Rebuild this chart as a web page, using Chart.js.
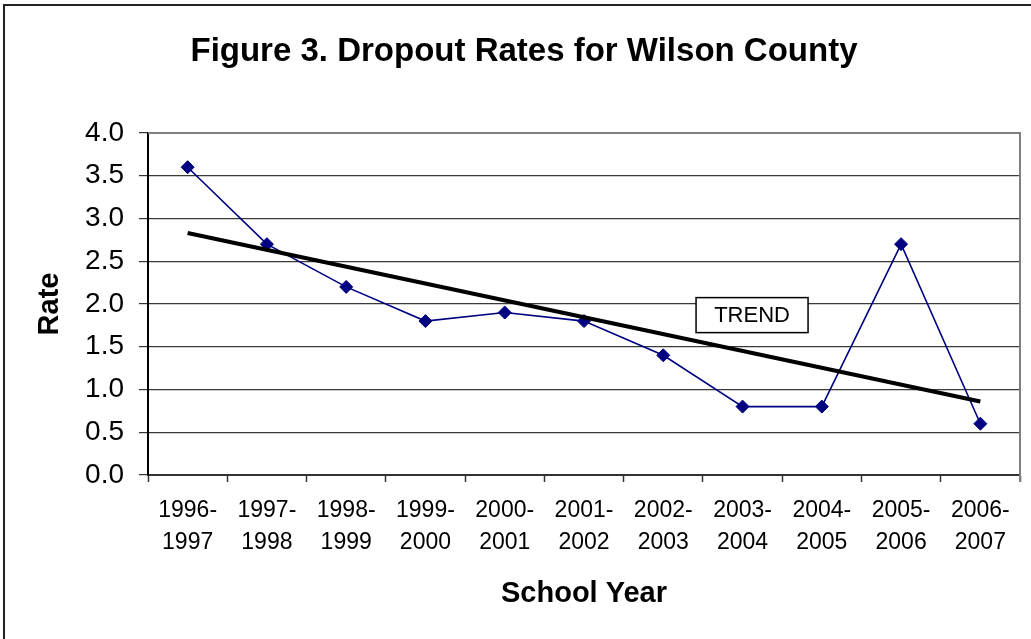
<!DOCTYPE html>
<html>
<head>
<meta charset="utf-8">
<script src="https://cdn.jsdelivr.net/npm/chart.js@4.4.1/dist/chart.umd.min.js"></script>
<style>
  html, body { margin: 0; padding: 0; background: #fff; }
  #wrap { width: 1031px; height: 639px; position: relative; }
</style>
</head>
<body>
<div id="wrap"><canvas id="c" width="1031" height="639"></canvas></div>
<script>
const categories = [
  ['1996-', '1997'], ['1997-', '1998'], ['1998-', '1999'], ['1999-', '2000'],
  ['2000-', '2001'], ['2001-', '2002'], ['2002-', '2003'], ['2003-', '2004'],
  ['2004-', '2005'], ['2005-', '2006'], ['2006-', '2007']
];
const dropoutRates = [3.6, 2.7, 2.2, 1.8, 1.9, 1.8, 1.4, 0.8, 0.8, 2.7, 0.6];
const trendValues = [2.83, null, null, null, null, null, null, null, null, null, 0.86];
const yTicks = [0, 0.5, 1, 1.5, 2, 2.5, 3, 3.5, 4];
const trendLabel = { text: 'TREND', index: 7.12, value: 1.87 };

const FONT = "'Liberation Sans', Arial, sans-serif";

const decorPlugin = {
  id: 'decor',
  beforeDraw(chart) {
    const ctx = chart.ctx;
    ctx.save();
    ctx.fillStyle = '#fff';
    ctx.fillRect(0, 0, chart.width, chart.height);
    ctx.restore();
  },
  afterDatasetsDraw(chart) {
    const ctx = chart.ctx;
    const a = chart.chartArea;
    ctx.save();
    ctx.strokeStyle = '#808080';
    ctx.lineWidth = 2;
    ctx.beginPath();
    ctx.moveTo(a.left, a.top);
    ctx.lineTo(a.right, a.top);
    ctx.lineTo(a.right, a.bottom + 7);
    ctx.stroke();
    const x = chart.scales.x.getPixelForValue(trendLabel.index);
    const y = chart.scales.y.getPixelForValue(trendLabel.value);
    const w = 112, h = 35;
    ctx.fillStyle = '#fff';
    ctx.fillRect(x - w / 2, y - h / 2, w, h);
    ctx.strokeStyle = '#000';
    ctx.lineWidth = 1.5;
    ctx.strokeRect(x - w / 2, y - h / 2, w, h);
    ctx.fillStyle = '#000';
    ctx.font = '22px ' + FONT;
    ctx.textAlign = 'center';
    ctx.textBaseline = 'middle';
    ctx.fillText(trendLabel.text, x, y + 1);
    ctx.strokeStyle = '#222';
    ctx.lineWidth = 2;
    ctx.beginPath();
    ctx.moveTo(4, chart.height + 5);
    ctx.lineTo(4, 5);
    ctx.lineTo(chart.width + 5, 5);
    ctx.stroke();
    ctx.restore();
  }
};

new Chart(document.getElementById('c'), {
  type: 'line',
  data: {
    labels: categories,
    datasets: [
      {
        label: 'Rate',
        data: dropoutRates,
        borderColor: '#000080',
        backgroundColor: '#000080',
        borderWidth: 1.6,
        pointStyle: 'rectRot',
        pointRadius: 6.5,
        pointBorderWidth: 1,
        pointBorderColor: '#000080',
        pointBackgroundColor: '#000080',
        tension: 0,
        order: 2
      },
      {
        label: 'Trend',
        data: trendValues,
        borderColor: '#000',
        borderWidth: 4,
        pointRadius: 0,
        spanGaps: true,
        tension: 0,
        order: 1
      }
    ]
  },
  options: {
    responsive: false,
    animation: false,
    devicePixelRatio: 1,
    layout: { padding: { left: 28, right: 11, top: 0, bottom: 0 } },
    plugins: {
      legend: { display: false },
      tooltip: { enabled: false },
      title: {
        display: true,
        text: 'Figure 3. Dropout Rates for Wilson County',
        color: '#000',
        font: { family: FONT, size: 33, weight: 'bold', lineHeight: 1.2 },
        padding: { top: 32, bottom: 61.4 }
      }
    },
    scales: {
      x: {
        type: 'category',
        offset: true,
        grid: {
          display: true,
          offset: true,
          drawOnChartArea: false,
          drawTicks: true,
          tickLength: 7,
          tickColor: '#333',
          tickWidth: 1.5
        },
        border: { display: true, color: '#333', width: 2 },
        ticks: {
          color: '#000',
          font: { family: FONT, size: 23, lineHeight: 1.39 },
          padding: 13,
          maxRotation: 0,
          autoSkip: false
        },
        title: {
          display: true,
          text: 'School Year',
          color: '#000',
          font: { family: FONT, size: 29, weight: 'bold', lineHeight: 1.2 },
          padding: { top: 0, bottom: 28 }
        },
        afterFit(scale) { scale.height = 164; }
      },
      y: {
        type: 'linear',
        min: 0,
        max: 4,
        afterBuildTicks(scale) { scale.ticks = yTicks.map(v => ({ value: v })); },
        grid: {
          color: (c) => (c.tick && c.tick.value === 4) ? '#808080' : '#3a3a3a',
          lineWidth: 1.2,
          drawTicks: true,
          tickLength: 9,
          tickColor: '#333'
        },
        border: { display: true, color: '#000', width: 2 },
        ticks: {
          color: '#000',
          font: { family: FONT, size: 28 },
          padding: 15,
          callback: (v) => Number(v).toFixed(1)
        },
        title: {
          display: true,
          text: 'Rate',
          color: '#000',
          font: { family: FONT, size: 29, weight: 'bold', lineHeight: 1.2 },
          padding: { top: 5, bottom: 0 }
        },
        afterFit(scale) { scale.width = 120; }
      }
    }
  },
  plugins: [decorPlugin]
});
</script>
</body>
</html>
